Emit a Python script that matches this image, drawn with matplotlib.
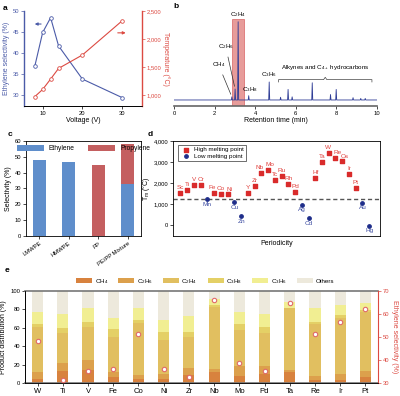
import numpy as np
import matplotlib.pyplot as plt
from matplotlib.ticker import FuncFormatter

plt.rcParams['font.family'] = ['Liberation Sans', 'DejaVu Sans']
plt.rcParams['mathtext.fontset'] = 'custom'
plt.rcParams['mathtext.rm'] = 'Liberation Sans'
plt.rcParams['mathtext.default'] = 'regular'
plt.rcParams['font.size'] = 4.5
plt.rcParams['axes.linewidth'] = 0.6
for ax_ in ('xtick', 'ytick'):
    plt.rcParams[ax_ + '.major.size'] = 2
    plt.rcParams[ax_ + '.major.width'] = 0.5
    plt.rcParams[ax_ + '.labelsize'] = 4.2
    plt.rcParams[ax_ + '.major.pad'] = 1.5

# ---- panel a
voltage = [8, 10, 12, 14, 20, 30]
eth_sel = [36.8, 44.9, 48.4, 41.7, 33.8, 29.4]
temperature = [970, 1100, 1285, 1475, 1715, 2325]

# ---- panel b (chromatogram peaks)
peak_time = [2.85, 3.01, 3.16, 3.68, 4.69, 5.25, 5.62, 5.82, 6.81, 7.71, 7.99, 8.82, 9.2, 9.42]
peak_height = [0.04, 0.14, 1.0, 0.055, 0.23, 0.035, 0.135, 0.04, 0.22, 0.07, 0.135, 0.03, 0.02, 0.02]

# ---- panel c
polymers = ['LMWPE', 'HMWPE', 'PP', 'PE/PP Mixture']
ethylene_c = [48, 47, 0, 33]
propylene_c = [0, 0, 45, 25]

# ---- panel d
elements = ['Sc', 'Ti', 'V', 'Cr', 'Mn', 'Fe', 'Co', 'Ni', 'Cu', 'Zn',
            'Y', 'Zr', 'Nb', 'Mo', 'Tc', 'Ru', 'Rh', 'Pd', 'Ag', 'Cd',
            'Hf', 'Ta', 'W', 'Re', 'Os', 'Ir', 'Pt', 'Au', 'Hg']
melting = [1541, 1668, 1910, 1907, 1246, 1538, 1495, 1455, 1085, 420,
           1526, 1855, 2477, 2623, 2157, 2334, 1964, 1555, 962, 321,
           2233, 3017, 3422, 3186, 3033, 2446, 1768, 1064, -39]
threshold = 1250
# small sideways nudges (points) for crowded labels
nudge = {'Fe': -1.2, 'Ni': 1.2, 'Nb': -1.5, 'Mo': 1.2, 'W': -0.8, 'Re': 1.5, 'Os': 2.2}

# ---- panel e
metals = ['W', 'Ti', 'V', 'Fe', 'Co', 'Ni', 'Zr', 'Nb', 'Mo', 'Pd', 'Ta', 'Re', 'Ir', 'Pt']
ch4 = [4.4, 13, 14.2, 6.5, 4, 4, 8.4, 11.6, 7.3, 9.3, 12, 3, 3, 6.5]
c2h6 = [7.2, 8.8, 10.5, 5.5, 5, 6, 8, 4, 10.9, 9.7, 2.5, 4.3, 7, 6.5]
c2h4 = [48.8, 32.7, 35.7, 37.5, 56.5, 36.5, 33.6, 67.4, 39.3, 35.6, 66.5, 56.3, 61, 64.5]
c3h8 = [3.6, 5.5, 6.1, 9, 3.5, 9.1, 5.6, 1.7, 6.1, 6.1, 1, 2.9, 2.8, 1.8]
c3h6 = [13.5, 15, 15, 12.5, 13, 13.4, 17.1, 6.3, 13.9, 14.3, 6.4, 14.5, 10.9, 7.2]
others = [22.5, 25, 18.5, 29, 18, 31, 27.3, 9, 22.5, 25, 11.6, 19, 15.3, 13.5]
eth_sel_e = [48.4, 31.5, 35.2, 36.1, 51.1, 36, 32.5, 66.1, 38.7, 35.4, 64.6, 51.5, 56.6, 62.2]

blue = '#4b5ba8'
red = '#dc4a42'

fig = plt.figure(figsize=(4.0, 3.96), dpi=100)

def box(l, t, r, b):
    return [l / 400, 1 - b / 396, (r - l) / 400, (b - t) / 396]

comma = FuncFormatter(lambda v, p: f'{v:,.0f}')

# ================= a
ax = fig.add_axes(box(24, 11, 142, 106))
ax.plot(voltage, eth_sel, '-o', color=blue, lw=0.8, ms=2.6, mfc='white', mew=0.6)
ax.set_xlim(5.3, 35)
ax.set_ylim(27.4, 50)
ax.set_yticks([30, 35, 40, 45, 50])
ax.set_xticks([10, 20, 30])
ax.set_xlabel('Voltage (V)', fontsize=5, labelpad=1)
ax.set_ylabel('Ethylene selectivity (%)', fontsize=5, color=blue, labelpad=2)
ax.tick_params(axis='y', colors=blue)
ax.spines['left'].set_color(blue)
ax.spines['left'].set_linewidth(1.0)
ax.spines['top'].set_visible(False)
ax.annotate('', xy=(7.3, 46.9), xytext=(10.3, 46.9),
            arrowprops=dict(arrowstyle='-|>', color=blue, lw=0.8, mutation_scale=4))
ax2 = ax.twinx()
ax2.plot(voltage, temperature, '-o', color=red, lw=0.8, ms=2.6, mfc='white', mew=0.6)
ax2.set_ylim(804, 2500)
ax2.set_yticks([1000, 1500, 2000, 2500])
ax2.yaxis.set_major_formatter(comma)
ax2.set_ylabel('Temperature (°C)', fontsize=5, color=red, rotation=270, labelpad=6)
ax2.tick_params(axis='y', colors=red)
ax2.spines['right'].set_color(red)
ax2.spines['right'].set_linewidth(1.0)
ax2.spines['left'].set_visible(False)
ax2.spines['top'].set_visible(False)
ax2.annotate('', xy=(31.6, 2110), xytext=(28.2, 2110),
             arrowprops=dict(arrowstyle='-|>', color=red, lw=0.8, mutation_scale=4))
fig.text(3 / 400, 1 - 8 / 396, 'a', fontsize=6, fontweight='bold', va='center')

# ================= b
bx = fig.add_axes(box(174, 10, 377, 106))
xs, ys = [0.0], [0.0]
for t, h in zip(peak_time, peak_height):
    xs += [t - 0.025, t, t + 0.025]
    ys += [0.0, h, 0.0]
xs.append(10.0)
ys.append(0.0)
bx.plot(xs, ys, color='#2e3c96', lw=0.6)
bx.axvspan(2.85, 3.47, ymin=0, ymax=(1.03 + 0.077) / (1.15 + 0.077),
           facecolor='#e07b78', alpha=0.75, edgecolor='#d04040', lw=0.5)
bx.set_xlim(0, 10)
bx.set_ylim(-0.077, 1.15)
bx.set_xticks([0, 2, 4, 6, 8, 10])
bx.set_yticks([])
for s in ('left', 'right', 'top'):
    bx.spines[s].set_visible(False)
bx.spines['bottom'].set_color('#666666')
bx.spines['bottom'].set_linewidth(1.2)
bx.set_xlabel('Retention time (min)', fontsize=5, labelpad=1)
bx.text(peak_time[2], 1.04, 'C$_2$H$_4$', ha='center', va='bottom', fontsize=4.5)
bx.annotate('C$_2$H$_6$', xy=(peak_time[1], peak_height[1]), xytext=(2.55, 0.62),
            ha='center', va='bottom', fontsize=4.5,
            arrowprops=dict(arrowstyle='-', color='#333333', lw=0.5))
bx.annotate('CH$_4$', xy=(peak_time[0], peak_height[0]), xytext=(2.2, 0.39),
            ha='center', va='bottom', fontsize=4.5,
            arrowprops=dict(arrowstyle='-', color='#333333', lw=0.5))
bx.text(peak_time[3] + 0.05, 0.08, 'C$_3$H$_8$', ha='center', va='bottom', fontsize=4.5)
bx.text(peak_time[4], 0.27, 'C$_3$H$_6$', ha='center', va='bottom', fontsize=4.5)
br_l, br_r, br_y = 5.15, 9.75, 0.26
br_c = (br_l + br_r) / 2
bx.plot([br_l, br_l, br_c - 0.08, br_c, br_c + 0.08, br_r, br_r],
        [br_y - 0.03, br_y, br_y, br_y + 0.03, br_y, br_y, br_y - 0.03],
        color='#444444', lw=0.5)
bx.text(br_c, br_y + 0.1, 'Alkynes and C$_{4+}$ hydrocarbons', ha='center',
        va='bottom', fontsize=4.5)
fig.text(173 / 400, 1 - 6 / 396, 'b', fontsize=6, fontweight='bold', va='center')

# ================= c
cx = fig.add_axes(box(26, 141, 141, 236))
pos = np.arange(len(polymers))
cx.bar(pos, ethylene_c, width=0.45, color='#5f8ecb', label='Ethylene')
cx.bar(pos, propylene_c, width=0.45, bottom=ethylene_c, color='#c45f60', label='Propylene')
cx.set_xlim(-0.45, 3.45)
cx.set_ylim(0, 60)
cx.set_yticks(range(0, 61, 10))
cx.set_xticks(pos)
cx.set_xticklabels(polymers, rotation=35, ha='right', rotation_mode='anchor')
cx.set_ylabel('Selectivity (%)', fontsize=5, labelpad=2)
cx.legend(loc='upper center', ncol=2, frameon=False, fontsize=4.8,
          handlelength=4, handleheight=1.1, columnspacing=2, borderaxespad=0.2)
fig.text(8 / 400, 1 - 135 / 396, 'c', fontsize=6, fontweight='bold', va='center')

# ================= d
dx = fig.add_axes(box(173, 141, 380, 236))
idx = np.arange(len(elements))
tm = np.array(melting)
hi = tm > threshold
dx.scatter(idx[hi], tm[hi], marker='s', s=6, color='#d92b2b', label='High melting point', zorder=3)
dx.scatter(idx[~hi], tm[~hi], marker='o', s=6, color='#1e2d8a', label='Low melting point', zorder=3)
for i, (el, v) in enumerate(zip(elements, melting)):
    dxo = nudge.get(el, 0)
    if v > threshold:
        dx.annotate(el, (i, v), xytext=(dxo, 2), textcoords='offset points',
                    ha='center', va='bottom', fontsize=4.6, color='#e0403c')
    else:
        dx.annotate(el, (i, v), xytext=(dxo, -2), textcoords='offset points',
                    ha='center', va='top', fontsize=4.6, color='#3a4aa0')
dx.axhline(threshold, color='#555555', ls=(0, (3, 2)), lw=1.0, zorder=1)
dx.set_xlim(-1.1, 29.6)
dx.set_ylim(-530, 4000)
dx.set_yticks([0, 1000, 2000, 3000, 4000])
dx.yaxis.set_major_formatter(comma)
dx.set_xticks([])
dx.set_xlabel('Periodicity', fontsize=5, labelpad=3)
dx.set_ylabel('T$_m$ (°C)', fontsize=5, labelpad=1)
dx.legend(loc='upper left', fontsize=4.5, frameon=True, fancybox=False,
          edgecolor='black', handletextpad=0.3, borderpad=0.3, labelspacing=0.2,
          bbox_to_anchor=(0.01, 0.99)).get_frame().set_linewidth(0.5)
fig.text(148 / 400, 1 - 135 / 396, 'd', fontsize=6, fontweight='bold', va='center')

# ================= e
ex = fig.add_axes(box(25, 291, 378, 383))
mpos = np.arange(len(metals))
comps = [ch4, c2h6, c2h4, c3h8, c3h6, others]
names = ['CH$_4$', 'C$_2$H$_6$', 'C$_2$H$_4$', 'C$_3$H$_8$', 'C$_3$H$_6$', 'Others']
colors = ['#d8823e', '#dca04c', '#e1bf60', '#e4d066', '#f1ee92', '#ede9dc']
bottom = np.zeros(len(metals))
for vals, name, col in zip(comps, names, colors):
    ex.bar(mpos, vals, width=0.44, bottom=bottom, color=col, label=name)
    bottom += np.array(vals)
ex.set_xlim(-0.5, 13.5)
ex.set_ylim(0, 100)
ex.set_yticks(range(0, 101, 20))
ex.set_xticks(mpos)
ex.set_xticklabels(metals, fontsize=5.5)
ex.set_ylabel('Product distribution (%)', fontsize=5, labelpad=2)
for s in ('top', 'bottom'):
    ex.spines[s].set_color('#777777')
    ex.spines[s].set_linewidth(1.2)
ex.legend(loc='lower center', bbox_to_anchor=(0.51, 1.03), ncol=6, frameon=False,
          fontsize=4.5, handlelength=2.6, handleheight=1.0, columnspacing=1.6,
          handletextpad=0.4, borderaxespad=0)
ex2 = ex.twinx()
ex2.scatter(mpos, eth_sel_e, s=10, facecolor='white', edgecolor='#e06a6a', lw=0.8, zorder=4)
ex2.set_ylim(30, 70)
ex2.set_yticks([30, 40, 50, 60, 70])
ex2.set_ylabel('Ethylene selectivity (%)', fontsize=5, color=red, rotation=270, labelpad=6)
ex2.tick_params(axis='y', colors=red)
ex2.spines['right'].set_color(red)
ex2.spines['right'].set_linewidth(0.8)
ex2.spines['top'].set_visible(False)
fig.text(5 / 400, 1 - 271 / 396, 'e', fontsize=6, fontweight='bold', va='center')

fig.savefig('out.png', dpi=100)
